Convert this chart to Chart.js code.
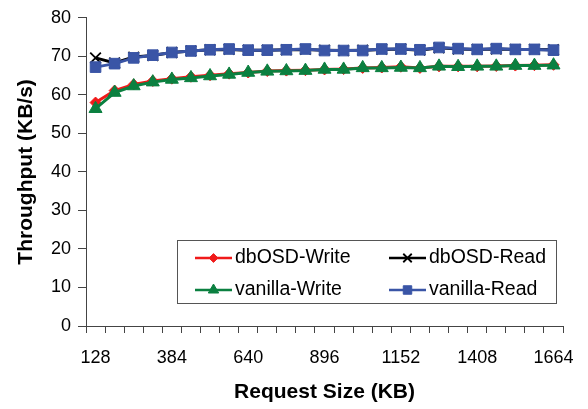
<!DOCTYPE html>
<html>
<head>
<meta charset="utf-8">
<script src="https://cdn.jsdelivr.net/npm/chart.js"></script>
<style>
  body { margin: 0; background: #fff; }
</style>
</head>
<body>
<canvas id="chart" width="588" height="409"></canvas>
<script>
// request sizes (KB)
const requestSizes = [128, 192, 256, 320, 384, 448, 512, 576, 640, 704, 768, 832, 896,
  960, 1024, 1088, 1152, 1216, 1280, 1344, 1408, 1472, 1536, 1600, 1664];

// throughput (KB/s)
const dbosdWrite = [58.0, 61.1, 62.7, 63.6, 64.2, 64.7, 65.1, 65.5, 65.8, 66.2, 66.3, 66.4, 66.6,
  66.7, 67.0, 67.1, 67.3, 67.0, 67.4, 67.4, 67.4, 67.5, 67.6, 67.7, 67.8];
const dbosdRead = [69.6, 68.3, 69.8, 70.2, 71.0, 71.4, 71.7, 71.8, 71.6, 71.6, 71.7, 71.8, 71.6,
  71.5, 71.6, 71.8, 71.9, 71.6, 72.2, 71.9, 71.8, 71.9, 71.8, 71.8, 71.7];
const vanillaWrite = [56.4, 60.6, 62.3, 63.3, 64.0, 64.4, 64.9, 65.3, 65.8, 66.1, 66.2, 66.3, 66.6,
  66.6, 67.0, 67.0, 67.1, 67.0, 67.4, 67.3, 67.4, 67.4, 67.6, 67.6, 67.7];
const vanillaRead = [67.2, 68.1, 69.6, 70.3, 71.0, 71.4, 71.7, 71.9, 71.6, 71.6, 71.7, 71.9, 71.5,
  71.5, 71.5, 71.9, 71.9, 71.7, 72.3, 72.0, 71.8, 72.0, 71.8, 71.8, 71.6];

const yTicks = [0, 10, 20, 30, 40, 50, 60, 70, 80];

Chart.defaults.font.family = '"Liberation Sans", Arial, sans-serif';
Chart.defaults.font.size = 18;
Chart.defaults.color = '#000';

// legend in a framed box inside the plot, 2 columns
const boxLegend = {
  id: 'boxLegend',
  afterDatasetsDraw(chart, args, opts) {
    const ctx = chart.ctx;
    ctx.save();
    ctx.fillStyle = '#fff';
    ctx.fillRect(opts.x, opts.y, opts.w, opts.h);
    ctx.strokeStyle = '#555';
    ctx.lineWidth = 1;
    ctx.strokeRect(opts.x + 0.5, opts.y + 0.5, opts.w, opts.h);
    ctx.font = opts.fontSize + 'px ' + Chart.defaults.font.family;
    ctx.textBaseline = 'middle';
    chart.data.datasets.forEach((ds, i) => {
      const col = i % 2, row = Math.floor(i / 2);
      const x0 = opts.x + opts.colX[col];
      const y0 = opts.y + opts.rowY[row];
      ctx.strokeStyle = ds.borderColor;
      ctx.lineWidth = 2.5;
      ctx.beginPath();
      ctx.moveTo(x0, y0);
      ctx.lineTo(x0 + opts.lineLen, y0);
      ctx.stroke();
      ctx.fillStyle = ds.pointBackgroundColor;
      ctx.strokeStyle = ds.pointBorderColor;
      ctx.lineWidth = ds.pointBorderWidth;
      Chart.helpers.drawPoint(ctx, {
        pointStyle: ds.pointStyle,
        radius: ds.pointRadius * 0.8,
        rotation: 0,
        borderWidth: ds.pointBorderWidth
      }, x0 + opts.lineLen / 2, y0);
      ctx.fillStyle = '#000';
      ctx.fillText(ds.label, x0 + opts.lineLen + 3, y0);
    });
    ctx.restore();
  }
};

new Chart(document.getElementById('chart'), {
  type: 'line',
  data: {
    labels: requestSizes,
    datasets: [
      {
        label: 'dbOSD-Write', data: dbosdWrite, order: 2,
        borderColor: '#f01a1a', borderWidth: 3,
        pointStyle: 'rectRot', pointRadius: 5.5,
        pointBackgroundColor: '#f01a1a', pointBorderColor: '#f01a1a', pointBorderWidth: 1
      },
      {
        label: 'dbOSD-Read', data: dbosdRead, order: 3,
        borderColor: '#000', borderWidth: 3,
        pointStyle: 'crossRot', pointRadius: 7.5,
        pointBackgroundColor: '#000', pointBorderColor: '#000', pointBorderWidth: 1.8
      },
      {
        label: 'vanilla-Write', data: vanillaWrite, order: 0,
        borderColor: '#0b8040', borderWidth: 3,
        pointStyle: 'triangle', pointRadius: 7.5,
        pointBackgroundColor: '#0b8040', pointBorderColor: '#0b8040', pointBorderWidth: 1
      },
      {
        label: 'vanilla-Read', data: vanillaRead, order: 1,
        borderColor: '#3a55a6', borderWidth: 3,
        pointStyle: 'rect', pointRadius: 7.5,
        pointBackgroundColor: '#3a55a6', pointBorderColor: '#3a55a6', pointBorderWidth: 1
      }
    ]
  },
  options: {
    responsive: false,
    animation: false,
    layout: { padding: { top: 13, right: 23, left: 0, bottom: 0 } },
    plugins: {
      legend: { display: false },
      tooltip: { enabled: false },
      boxLegend: {
        x: 177, y: 240, w: 379, h: 63,
        colX: [18, 212], rowY: [18, 50], lineLen: 37, fontSize: 19.5
      }
    },
    scales: {
      x: {
        type: 'category',
        offset: true,
        grid: {
          display: true, offset: true, drawOnChartArea: false,
          drawTicks: true, tickLength: 7, color: '#444'
        },
        border: { display: true, color: '#444', width: 1 },
        ticks: {
          autoSkip: false, maxRotation: 0, padding: 14,
          callback: (v, i) => (i % 4 === 0 ? requestSizes[i] : '')
        },
        title: {
          display: true, text: 'Request Size (KB)',
          font: { size: 21, weight: 'bold' }, padding: { top: 0, bottom: 4 }
        },
        afterFit: (s) => { s.height = 83; }
      },
      y: {
        min: 0, max: 80,
        afterBuildTicks: (s) => { s.ticks = yTicks.map(v => ({ value: v })); },
        grid: {
          display: true, drawOnChartArea: false,
          drawTicks: true, tickLength: 8, color: '#444'
        },
        border: { display: true, color: '#444', width: 1 },
        ticks: { padding: 7 },
        title: {
          display: true, text: 'Throughput (KB/s)',
          font: { size: 21, weight: 'bold' }, padding: { top: 14, bottom: 0 }
        },
        afterFit: (s) => { s.width = 86; }
      }
    }
  },
  plugins: [boxLegend]
});
</script>
</body>
</html>
